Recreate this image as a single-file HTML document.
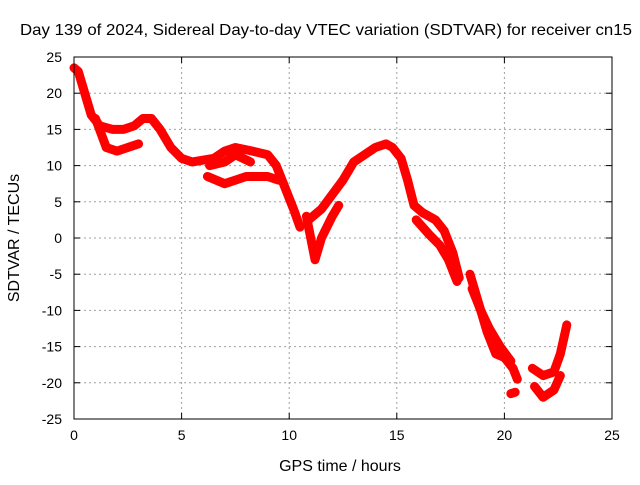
<!DOCTYPE html>
<html><head><meta charset="utf-8"><style>
body{margin:0;background:#fff;font-family:"Liberation Sans",sans-serif;}
svg text{font-family:"Liberation Sans",sans-serif;font-size:14px;fill:#000;}
svg text.big{font-size:16px;}
</style></head><body>
<svg id="chart" width="640" height="480">
<text class="big" x="20" y="35" textLength="612" lengthAdjust="spacingAndGlyphs">Day 139 of 2024, Sidereal Day-to-day VTEC variation (SDTVAR) for receiver cn15</text>
<text class="big" x="340" y="471" text-anchor="middle">GPS time / hours</text>
<text class="big" transform="translate(19,238) rotate(-90)" text-anchor="middle">SDTVAR / TECUs</text>
<g id="grid"></g><g id="marks"></g><g id="axes"></g>
</svg>
<script>
const xTicks=[0,5,10,15,20,25];
const yTicks=[25,20,15,10,5,0,-5,-10,-15,-20,-25];
const trackMain=[[0,23.5],[0.2,23],[0.5,20],[0.8,17],[1.2,15.5],[1.8,15],[2.3,15],[2.8,15.5],[3.2,16.5],[3.6,16.5],[4.0,15],[4.5,12.5],[5,11],[5.5,10.5],[6.5,11],[7,12],[7.5,12.5],[8.3,12],[9,11.5],[9.4,10],[9.8,7],[10.2,4],[10.5,1.5]];
const trackMid=[[10.9,2.5],[11.5,4],[12,6],[12.5,8],[13,10.5],[13.5,11.5],[14,12.5],[14.5,13],[14.8,12.5],[15.2,11],[15.5,8],[15.8,4.5],[16.2,3.5],[16.8,2.5],[17.2,1],[17.6,-2],[17.9,-5.5]];
const trackFall=[[18.4,-5],[18.8,-9],[19.2,-13],[19.6,-16],[20,-16.5],[20.4,-18],[20.6,-19.5]];
const trackFall2=[[18.5,-7],[18.9,-10],[19.3,-12.5],[19.8,-15],[20.3,-17]];
const trackLow1=[[1,16.5],[1.5,12.5],[2,12],[2.5,12.5],[3,13]];
const trackLow2=[[6.2,8.5],[7,7.5],[7.5,8],[8,8.5],[9,8.5],[9.5,8]];
const trackLow3=[[6.3,10],[7,10.5],[7.5,11.5],[8.2,10.5]];
const trackDip=[[10.8,3],[11.2,-3],[11.5,0],[12,3],[12.3,4.5]];
const trackLate=[[15.9,2.5],[16.5,0.5],[17,-1],[17.4,-3],[17.8,-6]];
const trackEnd=[[21.3,-18],[21.8,-19],[22.3,-18.5],[22.6,-16],[22.9,-12]];
const trackEnd2=[[21.4,-20.5],[21.8,-22],[22.3,-21],[22.6,-19]];
const trackBits=[[20.3,-21.5],[20.5,-21.3]];
const tracks=[trackMain,trackMid,trackFall,trackFall2,trackLow1,trackLow2,trackLow3,trackDip,trackLate,trackEnd,trackEnd2,trackBits];
const X0=74,X1=612,Y0=57,Y1=419;
const sx=v=>X0+(v-0)/25*(X1-X0);
const sy=v=>Y1-(v+25)/50*(Y1-Y0);
const NS="http://www.w3.org/2000/svg";
const grid=document.getElementById('grid'),axes=document.getElementById('axes'),marks=document.getElementById('marks');
function mk(tag,a,p){const e=document.createElementNS(NS,tag);for(const k in a)e.setAttribute(k,a[k]);p.appendChild(e);return e;}
xTicks.forEach(t=>{const x=sx(t);
 if(t>0&&t<25){const g=mk('line',{x1:x,x2:x,y1:Y0,y2:Y1,stroke:'#a0a0a0','stroke-dasharray':'2,3'},grid);
 
 }
 const l=mk('text',{x:x,y:Y1+21,'text-anchor':'middle'},axes);l.textContent=t;
 
 
 mk('line',{x1:x,x2:x,y1:Y1,y2:Y1-6,stroke:'#000'},axes);mk('line',{x1:x,x2:x,y1:Y0,y2:Y0+6,stroke:'#000'},axes);});
yTicks.forEach(t=>{const y=sy(t);
 if(t<25&&t>-25){const g=mk('line',{x1:X0,x2:X1,y1:y,y2:y,stroke:'#a0a0a0','stroke-dasharray':'2,3'},grid);
 
 }
 const l=mk('text',{x:X0-12,y:y+5,'text-anchor':'end'},axes);l.textContent=t;
 
 
 mk('line',{x1:X0,x2:X0+6,y1:y,y2:y,stroke:'#000'},axes);mk('line',{x1:X1,x2:X1-6,y1:y,y2:y,stroke:'#000'},axes);});
const fr=mk('rect',{x:X0,y:Y0,width:X1-X0,height:Y1-Y0,fill:'none',stroke:'#000'},axes);


tracks.forEach(tr=>{
 const p=mk('polyline',{points:tr.map(d=>sx(d[0])+','+sy(d[1])).join(' '),fill:'none',stroke:'#ff0000','stroke-width':9,'stroke-linejoin':'round','stroke-linecap':'round'},marks);
 
 
});
</script>
</body></html>
